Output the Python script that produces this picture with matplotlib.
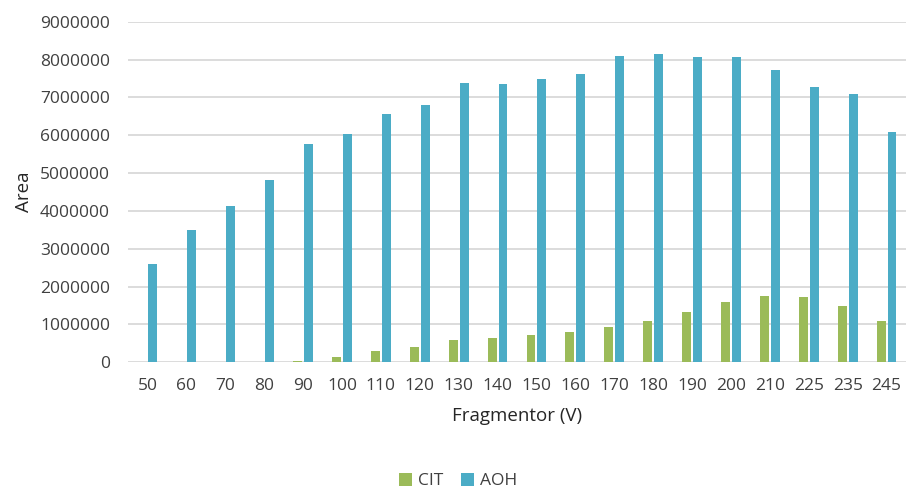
import numpy as np
import matplotlib.pyplot as plt

plt.rcParams['font.family'] = ['Open Sans', 'DejaVu Sans']

# Fragmentor voltages and peak areas
fragmentor = ['50', '60', '70', '80', '90', '100', '110', '120', '130', '140',
              '150', '160', '170', '180', '190', '200', '210', '225', '235', '245']
cit = [0, 0, 0, 0, 40000, 130000, 300000, 410000, 580000, 640000,
       730000, 790000, 930000, 1100000, 1330000, 1590000, 1760000, 1730000, 1480000, 1100000]
aoh = [2590000, 3490000, 4140000, 4830000, 5780000, 6030000, 6550000, 6810000, 7380000, 7350000,
       7490000, 7610000, 8100000, 8150000, 8070000, 8070000, 7730000, 7270000, 7090000, 6080000]

fig = plt.figure(figsize=(9.11, 4.92), dpi=100)
ax = fig.add_axes([0.1405, 0.2636, 0.854, 0.6923])

x = np.arange(len(fragmentor))
w = 0.23
ax.bar(x - 0.14, cit, w, color='#9BBB59', label='CIT', zorder=3)
ax.bar(x + 0.14, aoh, w, color='#4BACC6', label='AOH', zorder=3)

ax.set_xlim(-0.5, len(fragmentor) - 0.5)
ax.set_ylim(0, 9000000)
ax.set_yticks(np.arange(0, 9000001, 1000000))
ax.set_yticklabels([str(v) for v in range(0, 9000001, 1000000)])
ax.set_xticks(x)
ax.set_xticklabels(fragmentor)
ax.tick_params(length=0, labelsize=12.5, colors='#404040')
ax.tick_params(axis='y', pad=13)
ax.tick_params(axis='x', pad=11)
ax.grid(axis='y', color='#D9D9D9', lw=1.3, zorder=0)
for s in ax.spines.values():
    s.set_visible(False)

ax.set_ylabel('Area', fontsize=13.5, color='#262626', labelpad=5)
ax.set_xlabel('Fragmentor (V)', fontsize=13.5, color='#262626', labelpad=10)

fig.legend(*ax.get_legend_handles_labels(), loc='center', bbox_to_anchor=(0.503, 0.022),
           ncol=2, frameon=False, fontsize=12.5, handlelength=0.75, handleheight=0.75,
           columnspacing=1.0, handletextpad=0.35, labelcolor='#404040',
           borderaxespad=0, borderpad=0)

fig.savefig('out.png', dpi=100)
